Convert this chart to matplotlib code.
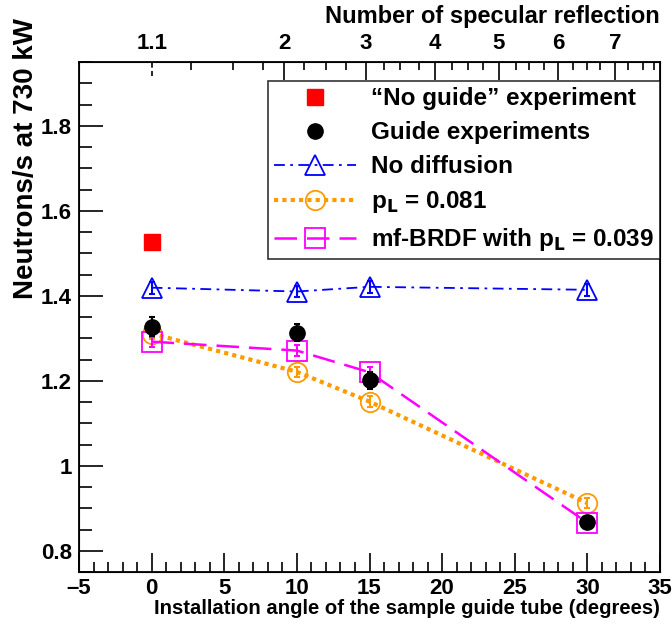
import numpy as np
import matplotlib

matplotlib.use("Agg")
import matplotlib.pyplot as plt
from matplotlib.ticker import MultipleLocator, FixedLocator

plt.rcParams["font.family"] = ["Liberation Sans", "DejaVu Sans"]
plt.rcParams["font.weight"] = "bold"
plt.rcParams["mathtext.default"] = "bf"

# ---- data ----
angle = [0, 10, 15, 30]

no_guide_x = [0]
no_guide_y = [1.527]

guide_y = [1.327, 1.313, 1.201, 0.867]
guide_err = [0.022, 0.02, 0.02, 0.01]

nodiff_y = [1.419, 1.410, 1.421, 1.414]
nodiff_err = [0.014, 0.014, 0.014, 0.014]

pl081_y = [1.311, 1.221, 1.151, 0.912]
pl081_err = [0.012, 0.012, 0.012, 0.012]

brdf_y = [1.292, 1.271, 1.220, 0.866]
brdf_err = [0.012, 0.012, 0.012, 0.006]

x_ticks = [-5, 0, 5, 10, 15, 20, 25, 30, 35]
x_ticklabels = ["\u20135", "0", "5", "10", "15", "20", "25", "30", "35"]
y_ticks = [0.8, 1.0, 1.2, 1.4, 1.6, 1.8]
y_ticklabels = ["0.8", "1", "1.2", "1.4", "1.6", "1.8"]

# top axis: number of specular reflections (angle positions)
refl_labels = ["1.1", "2", "3", "4", "5", "6", "7"]
refl_pos = [0.0, 9.11, 14.75, 19.5, 23.9, 28.0, 31.9]
refl_minor = [2.68, 5.59, 7.64, 10.5, 12.0, 13.4, 16.0, 17.1, 18.4,
              20.7, 21.8, 22.8, 25.1, 26.0, 27.0, 29.0, 30.0, 30.9,
              32.8, 33.8, 34.6]

BLUE = "#0000ff"
ORANGE = "#ff9a00"
MAGENTA = "#ff00ff"

fig = plt.figure(figsize=(6.72, 6.26), dpi=100)
ax = fig.add_axes([79 / 672, 1 - 572 / 626, 581 / 672, 510 / 626])

# error bars (no legend), then lines + markers for the legend
for ys, es, c in [(nodiff_y, nodiff_err, BLUE), (pl081_y, pl081_err, ORANGE),
                  (brdf_y, brdf_err, MAGENTA)]:
    ax.errorbar(angle, ys, yerr=es, fmt="none", ecolor=c, capsize=2,
                elinewidth=1.5, capthick=1.5, zorder=3)
ax.errorbar(angle, guide_y, yerr=guide_err, fmt="none", ecolor="black",
            capsize=2, elinewidth=1.5, capthick=1.5, zorder=3)

h_nodiff, = ax.plot(angle, nodiff_y, color=BLUE, ls=(0, (6, 3, 1.5, 3)),
                    lw=1.3, marker="^", ms=15, mfc="none", mec=BLUE, mew=1.3)
h_pl, = ax.plot(angle, pl081_y, color=ORANGE, ls=(0, (1, 1)), lw=3,
                marker="o", ms=14, mfc="none", mec=ORANGE, mew=1.3)
h_brdf, = ax.plot(angle, brdf_y, color=MAGENTA, ls=(0, (9, 4)), lw=1.8,
                  marker="s", ms=14, mfc="none", mec=MAGENTA, mew=1.3)
h_guide, = ax.plot(angle, guide_y, ls="none", marker="o", ms=11,
                   color="black", zorder=4)
h_noguide, = ax.plot(no_guide_x, no_guide_y, ls="none", marker="s", ms=11,
                     color="#ff0000")

ax.set_xlim(-5, 35)
ax.set_ylim(0.75, 1.95)
ax.xaxis.set_major_locator(FixedLocator(x_ticks))
ax.set_xticklabels(x_ticklabels)
ax.xaxis.set_minor_locator(MultipleLocator(1))
ax.yaxis.set_major_locator(FixedLocator(y_ticks))
ax.set_yticklabels(y_ticklabels)
ax.yaxis.set_minor_locator(MultipleLocator(0.05))
ax.tick_params(which="both", direction="in", top=False, right=False,
               labelsize=16, width=1.2)
ax.tick_params(axis="y", which="major", length=17, pad=5)
ax.tick_params(axis="y", which="minor", length=9)
ax.tick_params(axis="x", which="major", length=14, pad=4)
ax.tick_params(axis="x", which="minor", length=7)
for s in ax.spines.values():
    s.set_linewidth(1.3)

ax.set_xlabel("Installation angle of the sample guide tube (degrees)",
              fontsize=14.6, fontweight="bold", ha="right", va="top")
ax.xaxis.set_label_coords(1.0, -0.053)
ax.set_ylabel("Neutrons/s at 730 kW", fontsize=20, fontweight="bold",
              ha="right")
ax.yaxis.set_label_coords(-0.068, 1.086)

# top axis
ax2 = ax.twiny()
ax2.set_xlim(ax.get_xlim())
ax2.xaxis.set_major_locator(FixedLocator(refl_pos))
ax2.set_xticklabels(refl_labels)
ax2.xaxis.set_minor_locator(FixedLocator(refl_minor))
ax2.tick_params(which="both", direction="in", labelsize=16, width=1.2, pad=6)
ax2.tick_params(which="major", length=13)
ax2.tick_params(which="minor", length=6)
# dashed tick at 1.1
ax2.xaxis.get_major_ticks()[0].tick2line.set_visible(False)
ax2.plot([refl_pos[0], refl_pos[0]], [1 - 14 / 510, 1], color="black",
         ls=(0, (3, 2)), lw=1.2, transform=ax2.get_xaxis_transform(),
         clip_on=False)
ax2.set_xlabel("Number of specular reflection", fontsize=17,
               fontweight="bold", ha="right", va="top")
ax2.xaxis.set_label_coords(1.0, 1.111)

leg = ax.legend([h_noguide, h_guide, h_nodiff, h_pl, h_brdf],
                ["\u201cNo guide\u201d experiment", "Guide experiments",
                 "No diffusion", r"p$_{\mathbf{L}}$ = 0.081",
                 r"mf-BRDF with p$_{\mathbf{L}}$ = 0.039"],
                loc="upper right", bbox_to_anchor=(1.0, 0.962),
                fontsize=17.5, frameon=True, fancybox=False, edgecolor="black",
                handlelength=3.4, borderpad=0.25, labelspacing=0.45,
                handletextpad=0.6, borderaxespad=0)
leg.get_frame().set_linewidth(1.2)

fig.savefig("out.png", dpi=100)
